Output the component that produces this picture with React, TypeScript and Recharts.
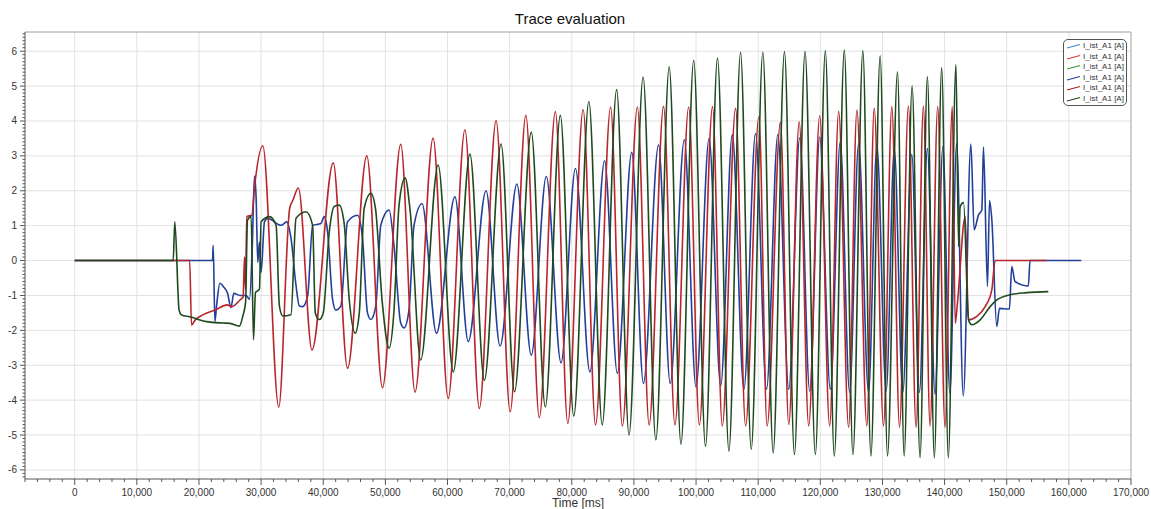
import React from 'react';
import { LineChart, Line, XAxis, YAxis, CartesianGrid, Legend, ReferenceLine } from 'recharts';

// ---- axis ranges and tick labels ----
const X_MIN = -8000;
const X_MAX = 170000;
const Y_MIN = -6.26;
const Y_MAX = 6.55;
const X_MAJOR = [0, 10000, 20000, 30000, 40000, 50000, 60000, 70000, 80000, 90000, 100000, 110000, 120000, 130000, 140000, 150000, 160000, 170000];
const Y_MAJOR = [-6, -5, -4, -3, -2, -1, 0, 1, 2, 3, 4, 5, 6];
const X_MINOR_STEP = 2000;
const Y_MINOR_STEP = 0.1;

const TITLE = 'Trace evaluation';
const X_LABEL = 'Time [ms]';

const LEGEND_ITEMS = [
  { name: 'I_ist_A1 [A]', color: '#3b86d4' },
  { name: 'I_ist_A1 [A]', color: '#d23a3a' },
  { name: 'I_ist_A1 [A]', color: '#3a9a3a' },
  { name: 'I_ist_A1 [A]', color: '#22409a' },
  { name: 'I_ist_A1 [A]', color: '#b01e22' },
  { name: 'I_ist_A1 [A]', color: '#1e4a1e' },
];

// ---- series: [time ms, current A] ----
const BLUE_SERIES: [number, number][] = [
  [0, 0], [22180, 0], [22290, 0.44], [22560, -1.75], [22830, -1.3], [23370, -0.65], [23900, -0.74],
  [24600, -0.94], [25150, -1.35], [25600, -0.94], [26600, -1.0], [27600, -1.0], [28130, -1.11],
  [28560, 0.3], [28930, 2.42], [29200, 1.79], [29460, -0.05], [29730, 0.53], [30000, -0.34],
  [30540, 1.11], [31070, 1.21], [33210, 1.01], [34120, 1.11], [34820, 0.63], [35620, -0.72],
  [36150, -1.3], [36690, -1.32], [37490, -1.01], [38290, 1.01], [39630, 1.06], [40160, 1.26],
  [40700, 0.82], [41500, -1.11], [42040, -1.42], [42840, -1.3], [43910, 1.11], [45520, 1.3],
  [46320, 0.63], [47120, -1.5], [47660, -1.69], [48460, -1.3], [49260, 1.01], [50600, 1.45],
  [51400, 0.4], [52470, -1.79], [53010, -1.93], [53810, -1.4], [54610, 1.01], [55900, 1.63],
  [58220, -2.08], [61190, 1.83], [63340, -2.32], [66200, 2.0], [68460, -2.45], [71160, 2.19],
  [73480, -2.71], [75900, 2.41], [78270, -2.93], [80590, 2.64], [82910, -3.19], [85280, 2.86],
  [87330, -3.23], [89650, 3.1], [91530, -3.52], [93960, 3.31], [95840, -3.52], [98110, 3.46],
  [99990, -3.62], [102100, 3.5], [103960, -3.59], [105830, 3.61], [107700, -3.69], [109570, 3.64],
  [111340, -3.69], [113160, 3.61], [114920, -3.69], [116690, 3.52], [118290, -3.74], [119900, 3.54],
  [121610, -3.69], [123210, 3.4], [124710, -3.78], [126160, 3.35], [127760, -3.78], [129100, 3.3],
  [130600, -3.74], [131900, 3.2], [133270, -3.78], [134720, 3.04], [135950, -3.78], [137230, 3.21],
  [138460, -3.83], [139730, 3.27], [140850, -3.8], [141940, 3.35], [143010, -3.88], [144230, 3.34],
  [144760, 0.88], [145460, 1.31], [145990, 1.45], [146260, 3.25], [146900, -0.74], [147230, 1.72],
  [147600, 1.17], [148400, -1.89], [148830, -1.37], [150430, -1.39], [150810, -0.17], [151340, -0.6],
  [153480, -0.73], [153750, 0], [162000, 0],
];

const RED_SERIES: [number, number][] = [
  [0, 0], [18500, 0], [18800, -1.85], [19400, -1.7], [20700, -1.55], [22800, -1.4], [24500, -1.27],
  [25300, -1.32], [26600, -1.13], [27100, -1.05], [27330, 0.1], [27490, -0.82], [27700, 1.26],
  [28500, 1.3], [29000, 2.2], [30270, 3.29], [32840, -4.2], [34600, 1.5], [35100, 1.72], [36000, 2.08],
  [38190, -2.56], [41610, 2.8], [43910, -3.09], [47010, 3.0], [49530, -3.64], [52470, 3.33],
  [54770, -3.77], [57680, 3.51], [60110, -3.95], [62800, 3.75], [65120, -4.24], [67820, 4.01],
  [70080, -4.33], [72610, 4.16], [74770, -4.5], [77360, 4.27], [79350, -4.67], [81830, 4.33],
  [83820, -4.71], [86250, 4.4], [88140, -4.74], [90560, 4.4], [92450, -4.71], [94770, 4.42],
  [96600, -4.71], [98810, 4.4], [100530, -4.71], [102650, 4.41], [104220, -4.74], [106360, 4.36],
  [107970, -4.74], [110110, 4.12], [111440, -4.74], [113580, 3.96], [114920, -4.7], [116600, 3.98],
  [118130, -4.74], [119900, 4.15], [121500, -4.74], [122950, 4.28], [124550, -4.78], [125890, 4.31],
  [127490, -4.74], [128670, 4.36], [130170, -4.74], [131510, 4.41], [132740, -4.78], [134180, 4.43],
  [135410, -4.78], [136590, 4.43], [137660, -4.74], [138890, 4.41], [140070, -4.78], [141240, 4.41],
  [141710, -1.8], [142090, -1.17], [143320, 1.26], [143850, -1.7], [145190, -1.6], [146530, -1.32],
  [147600, -0.84], [148130, 0], [156420, 0],
];

const GREEN_SERIES: [number, number][] = [
  [0, 0], [15850, 0], [16110, 1.11], [16800, -1.42], [17200, -1.56], [18500, -1.61], [21200, -1.75],
  [23800, -1.79], [25000, -1.8], [26500, -1.88], [27060, -1.59], [27500, -1.2], [27800, 1.15],
  [28400, 1.26], [28770, -2.27], [29090, -0.92], [29730, -0.82], [30000, 1.11], [31340, 1.26],
  [32410, 1.01], [32940, -1.3], [33480, -1.59], [34800, -1.55], [35620, 1.21], [37220, 1.4],
  [38290, 1.01], [38720, -1.5], [39360, -1.69], [40000, -1.5], [40970, 0.82], [41770, 1.55],
  [42570, 1.59], [43370, 1.06], [44180, -1.11], [45140, -2.08], [45800, -1.5], [46590, 1.5],
  [47660, 1.93], [48400, 1.5], [49500, -1.2], [50600, -2.51], [51400, -1.4], [52200, 1.59],
  [53170, 2.37], [54000, 1.4], [55680, -2.85], [58490, 2.74], [60920, -3.19], [63610, 3.05],
  [65930, -3.43], [68620, 3.34], [70780, -3.76], [73480, 3.68], [75740, -4.19], [78160, 4.16],
  [80320, -4.46], [82750, 4.56], [84900, -4.71], [87220, 4.9], [89210, -5.0], [91480, 5.26],
  [93530, -5.14], [95680, 5.55], [97570, -5.26], [99620, 5.74], [101520, -5.33], [103450, 5.8],
  [105290, -5.46], [107160, 5.97], [108880, -5.41], [110750, 5.97], [112410, -5.51], [114230, 5.99],
  [115830, -5.56], [117540, 5.99], [119200, -5.56], [120810, 6.01], [122250, -5.6], [123860, 6.03],
  [125250, -5.56], [126850, 6.01], [128140, -5.6], [129630, 5.87], [130810, -5.6], [132420, 5.41],
  [133490, -5.6], [134770, 5.01], [136050, -5.65], [137230, 5.27], [138350, -5.65], [139530, 5.53],
  [140600, -5.65], [141830, 5.62], [142250, 0.4], [142510, 1.55], [143050, 1.66], [143850, -1.7],
  [144390, -1.84], [145730, -1.7], [147330, -1.32], [148400, -1.13], [150540, -0.98], [153210, -0.92],
  [156690, -0.89],
];

const toRows = (s: [number, number][]) => s.map(([t, v]) => ({ t, v }));
const blueData = toRows(BLUE_SERIES);
const redData = toRows(RED_SERIES);
const greenData = toRows(GREEN_SERIES);

const X_TICKS: number[] = [];
for (let v = X_MIN; v <= X_MAX; v += X_MINOR_STEP) X_TICKS.push(v);
const Y_TICKS: number[] = [];
for (let i = Math.ceil(Y_MIN / Y_MINOR_STEP); i <= Math.floor(Y_MAX / Y_MINOR_STEP); i++) Y_TICKS.push(Math.round(i) / 10);

const FONT = '"Liberation Sans", Arial, sans-serif';
const AXIS_COLOR = '#555';
const TEXT_COLOR = '#333';
const LINE_WIDTH = 1.6;

const isMajorX = (v: number) => X_MAJOR.includes(v);
const isMajorY = (v: number) => Y_MAJOR.some((m) => Math.abs(m - v) < 1e-6);

const XTick = (props: any) => {
  const { x, y, payload } = props;
  const major = isMajorX(payload.value);
  return (
    <g>
      <line x1={x} x2={x} y1={y} y2={y + (major ? 6 : 3)} stroke={AXIS_COLOR} strokeWidth={1} />
      {major && (
        <text x={x} y={y + 17} textAnchor="middle" fontSize={10} fontFamily={FONT} fill={TEXT_COLOR}>
          {payload.value.toLocaleString('en-US')}
        </text>
      )}
    </g>
  );
};

const YTick = (props: any) => {
  const { x, y, payload } = props;
  const major = isMajorY(payload.value);
  return (
    <g>
      <line x1={x} x2={x - (major ? 5 : 2.5)} y1={y} y2={y} stroke={AXIS_COLOR} strokeWidth={1} />
      {major && (
        <text x={x - 8} y={y + 3.5} textAnchor="end" fontSize={10} fontFamily={FONT} fill={TEXT_COLOR}>
          {Math.round(payload.value)}
        </text>
      )}
    </g>
  );
};

const renderLegend = () => (
  <div
    style={{
      boxSizing: 'border-box',
      width: 64,
      height: 67,
      border: '1px solid #555',
      borderRadius: 5,
      background: '#fff',
      padding: '1px 0 0 2px',
      fontFamily: FONT,
    }}
  >
    {LEGEND_ITEMS.map((item, i) => (
      <div key={i} style={{ display: 'flex', alignItems: 'center', height: 10.5 }}>
        <svg width={17} height={8} style={{ display: 'block' }}>
          <line x1={1} y1={6} x2={14} y2={2.5} stroke={item.color} strokeWidth={1.2} />
        </svg>
        <span style={{ fontSize: 8, color: TEXT_COLOR, lineHeight: '8px', whiteSpace: 'nowrap' }}>{item.name}</span>
      </div>
    ))}
  </div>
);

export default function App() {
  return (
    <div style={{ position: 'absolute', left: 0, top: 0, width: 1151, height: 509, background: '#fff', fontFamily: FONT }}>
      <LineChart width={1151} height={509} margin={{ top: 32, right: 20, bottom: 0, left: 0 }}>
        <CartesianGrid
          stroke="#e2e2e2"
          horizontalValues={Y_MAJOR}
          verticalValues={X_MAJOR}
        />
        <XAxis
          type="number"
          dataKey="t"
          domain={[X_MIN, X_MAX]}
          allowDataOverflow
          ticks={X_TICKS}
          interval={0}
          tick={XTick}
          tickSize={0}
          tickMargin={0}
          tickLine={false}
          axisLine={{ stroke: AXIS_COLOR }}
          height={30}
          label={{ value: X_LABEL, position: 'insideBottom', offset: 2, fontSize: 12, fill: TEXT_COLOR, fontFamily: FONT }}
        />
        <YAxis
          type="number"
          domain={[Y_MIN, Y_MAX]}
          allowDataOverflow
          ticks={Y_TICKS}
          interval={0}
          tick={YTick}
          tickSize={0}
          tickMargin={0}
          tickLine={false}
          axisLine={{ stroke: AXIS_COLOR }}
          width={25}
        />
        <ReferenceLine y={Y_MAX} stroke="#a0a0a0" />
        <ReferenceLine x={X_MAX} stroke="#b0b0b0" />
        <Line data={blueData} dataKey="v" type="monotone" stroke="#22409a" strokeWidth={LINE_WIDTH} dot={false} activeDot={false} isAnimationActive={false} />
        <Line data={redData} dataKey="v" type="monotone" stroke="#b8262c" strokeWidth={LINE_WIDTH} dot={false} activeDot={false} isAnimationActive={false} />
        <Line data={greenData} dataKey="v" type="monotone" stroke="#1e4a1e" strokeWidth={LINE_WIDTH} dot={false} activeDot={false} isAnimationActive={false} />
        <Legend
          content={renderLegend}
          layout="vertical"
          align="center"
          verticalAlign="middle"
          wrapperStyle={{ left: 1063, top: 39, width: 64, height: 67 }}
        />
      </LineChart>
      <div
        style={{
          position: 'absolute',
          left: 0,
          top: 11,
          width: 1140,
          textAlign: 'center',
          fontSize: 15,
          lineHeight: '16px',
          color: '#111',
          fontFamily: FONT,
        }}
      >
        {TITLE}
      </div>
    </div>
  );
}
